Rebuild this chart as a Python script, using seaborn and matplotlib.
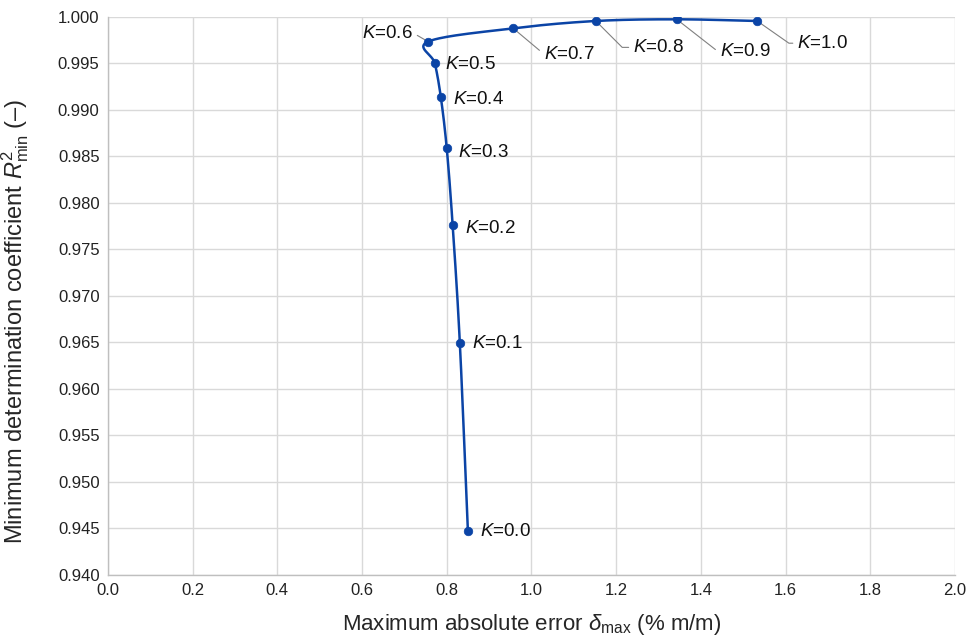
import numpy as np
import pandas as pd
import matplotlib
matplotlib.use("Agg")
import matplotlib.pyplot as plt
import seaborn as sns

# ---- data ----
K_values = [0.0, 0.1, 0.2, 0.3, 0.4, 0.5, 0.6, 0.7, 0.8, 0.9, 1.0]
delta_max = [0.850, 0.831, 0.814, 0.800, 0.786, 0.772, 0.756, 0.957, 1.152, 1.343, 1.533]
r2_min = [0.9447, 0.9649, 0.9776, 0.9859, 0.9914, 0.9950, 0.99735, 0.99878, 0.99957, 0.99975, 0.99957]
x_ticks = [0.0, 0.2, 0.4, 0.6, 0.8, 1.0, 1.2, 1.4, 1.6, 1.8, 2.0]
y_ticks = [0.940, 0.945, 0.950, 0.955, 0.960, 0.965, 0.970, 0.975, 0.980, 0.985, 0.990, 0.995, 1.000]

sns.set_style("whitegrid")
plt.rcParams['font.family'] = ['Liberation Sans', 'DejaVu Sans']
plt.rcParams['mathtext.fontset'] = 'custom'
plt.rcParams['mathtext.rm'] = 'Liberation Sans'
plt.rcParams['mathtext.it'] = 'Liberation Sans:italic'
plt.rcParams['mathtext.bf'] = 'Liberation Sans:bold'

LINE = "#0B44A6"

fig = plt.figure(figsize=(9.72, 6.41), dpi=100)
ax = fig.add_axes([0.111, 0.103, 0.8715, 0.8705])

# smoothed line (Catmull-Rom through the data points, like a spreadsheet smoothed line)
xs = np.array(delta_max)
ys = np.array(r2_min)
sx = xs / 2.0 * 847
sy = (ys - 0.94) / 0.06 * 558
P = np.column_stack([sx, sy])
Pext = np.vstack([2 * P[0] - P[1], P, 2 * P[-1] - P[-2]])
curve = []
for i in range(1, len(Pext) - 2):
    p0, p1, p2, p3 = Pext[i - 1], Pext[i], Pext[i + 1], Pext[i + 2]
    for t in np.linspace(0, 1, 30, endpoint=False):
        t2, t3 = t * t, t * t * t
        pt = 0.5 * ((2 * p1) + (-p0 + p2) * t + (2 * p0 - 5 * p1 + 4 * p2 - p3) * t2
                    + (-p0 + 3 * p1 - 3 * p2 + p3) * t3)
        curve.append(pt)
curve.append(P[-1])
curve = np.array(curve)
smooth = pd.DataFrame({"x": curve[:, 0] / 847 * 2.0, "y": curve[:, 1] / 558 * 0.06 + 0.94})

sns.lineplot(data=smooth, x="x", y="y", sort=False, estimator=None, color=LINE, lw=1.8, ax=ax)
pts = pd.DataFrame({"x": delta_max, "y": r2_min})
sns.scatterplot(data=pts, x="x", y="y", color=LINE, s=38, edgecolor=LINE, zorder=5, ax=ax)

ax.set_xlim(0, 2.0)
ax.set_ylim(0.940, 1.000)
ax.set_xticks(x_ticks)
ax.set_yticks(y_ticks)
ax.set_xticklabels([f"{v:.1f}" for v in x_ticks])
ax.set_yticklabels([f"{v:.3f}" for v in y_ticks])
ax.tick_params(axis='both', labelsize=12, length=0, pad=6, colors="#333333")
ax.tick_params(axis='both', labelcolor="#222222")
ax.grid(True, color="#d9d9d9", lw=1.0)
for side in ["top", "right"]:
    ax.spines[side].set_visible(False)
for side in ["left", "bottom"]:
    ax.spines[side].set_color("#bfbfbf")
    ax.spines[side].set_linewidth(1.0)

ax.set_xlabel(r"Maximum absolute error $\delta_{\mathrm{max}}$ (% m/m)", fontsize=16)
ax.set_ylabel(r"Minimum determination coefficient $R^2_{\mathrm{min}}$ (–)", fontsize=17)
ax.xaxis.set_label_coords(0.5, -0.066)
ax.yaxis.set_label_coords(-0.091, 0.455)

# labels
fs = 13.5
right_offsets = {0: (9, 0), 1: (9, 0), 2: (9, -2), 3: (8, -3), 4: (9, -2), 5: (7, -1)}
for i, (dx, dy) in right_offsets.items():
    ax.annotate(f"$K$=%.1f" % K_values[i], (delta_max[i], r2_min[i]), xytext=(dx, dy),
                textcoords="offset points", ha="left", va="center", fontsize=fs, color="#111111")

lead = dict(arrowstyle="-", color="#808080", lw=0.8, shrinkA=1, shrinkB=2)
ax.annotate("$K$=0.6", (delta_max[6], r2_min[6]), xytext=(-11, 6), textcoords="offset points",
            ha="right", va="center", fontsize=fs, color="#111111",
            arrowprops=dict(lead, connectionstyle="angle,angleA=0,angleB=-30,rad=0"))
leader_offsets = {7: (22, -19, -40), 8: (27, -19, -45), 9: (31, -23, -38), 10: (29, -16, -35)}
for i, (dx, dy, ang) in leader_offsets.items():
    ax.annotate(f"$K$=%.1f" % K_values[i], (delta_max[i], r2_min[i]), xytext=(dx, dy),
                textcoords="offset points", ha="left", va="center", fontsize=fs, color="#111111",
                arrowprops=dict(lead, connectionstyle=f"angle,angleA=0,angleB={ang},rad=0"))

fig.savefig("out.png", dpi=100)
